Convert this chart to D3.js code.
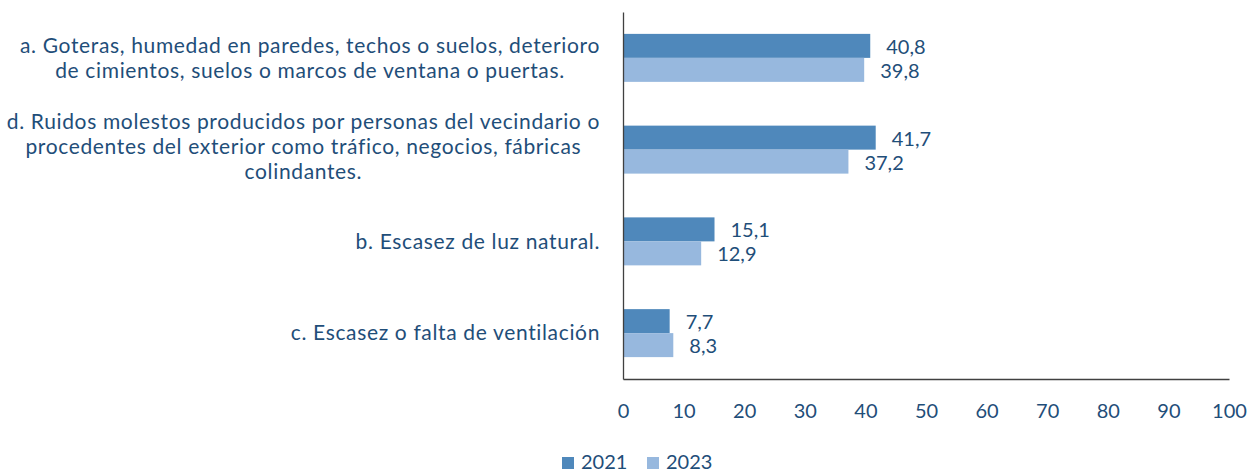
<!DOCTYPE html>
<html>
<head>
<meta charset="utf-8">
<script src="https://cdn.jsdelivr.net/npm/d3@7"></script>
<style>
  html, body { margin: 0; padding: 0; background: #ffffff; }
  svg { display: block; }
  text { font-family: Lato, "Open Sans", sans-serif; }
</style>
</head>
<body>
<svg id="chart" width="1255" height="471"></svg>
<script>
// ---- data ----
const categories = [
  ["a. Goteras, humedad en paredes, techos o suelos, deterioro", "de cimientos, suelos o marcos de ventana o puertas."],
  ["d. Ruidos molestos producidos por personas del vecindario o", "procedentes del exterior como tráfico, negocios, fábricas", "colindantes."],
  ["b. Escasez de luz natural."],
  ["c. Escasez o falta de ventilación"]
];
const seriesNames = ["2021", "2023"];
const values2021 = [40.8, 41.7, 15.1, 7.7];
const values2023 = [39.8, 37.2, 12.9, 8.3];
const xTicks = [0, 10, 20, 30, 40, 50, 60, 70, 80, 90, 100];

// ---- layout ----
const colors = ["#4f88bb", "#97b8de"];
const textColor = "#1f4e79";
const fontSize = 20;
const svg = d3.select("#chart");
const plot = { left: 623, right: 1229, top: 12, bottom: 379 };

const x = d3.scaleLinear().domain([0, 100]).range([plot.left, plot.right]);
const y = d3.scaleBand().domain(d3.range(categories.length))
  .range([plot.top, plot.bottom]).paddingInner(0.477).paddingOuter(0.2385);
const ySub = d3.scaleBand().domain(seriesNames).range([0, y.bandwidth()]);

const seriesData = [values2021, values2023];

// bars
seriesNames.forEach((name, si) => {
  const g = svg.append("g");
  g.selectAll("rect").data(seriesData[si]).enter().append("rect")
    .attr("x", x(0))
    .attr("y", (d, i) => y(i) + ySub(name))
    .attr("width", d => x(d) - x(0))
    .attr("height", ySub.bandwidth())
    .attr("fill", colors[si]);
  g.selectAll("text").data(seriesData[si]).enter().append("text")
    .attr("x", d => x(d) + 16)
    .attr("y", (d, i) => y(i) + ySub(name) + ySub.bandwidth() / 2)
    .attr("dy", "0.4em")
    .attr("font-size", fontSize)
    .attr("fill", textColor)
    .text(d => d3.format(".1f")(d).replace(".", ","));
});

// axes
const xAxis = d3.axisBottom(x).tickValues(xTicks).tickSize(0).tickPadding(0)
  .tickFormat(d => String(d));
const gx = svg.append("g").attr("transform", `translate(0,${plot.bottom})`).call(xAxis);
gx.select(".domain").attr("stroke", "#404040").attr("stroke-width", 1.3);
gx.selectAll(".tick text").attr("font-size", fontSize).attr("fill", textColor)
  .attr("font-family", "Lato, sans-serif").attr("dy", "1.95em");

const yAxisLine = d3.axisLeft(y).tickSize(0).tickFormat("");
const gy = svg.append("g").attr("transform", `translate(${plot.left},0)`).call(yAxisLine);
gy.select(".domain").attr("stroke", "#404040").attr("stroke-width", 1.3);

// category labels (centered multi-line blocks, right edge at 600)
const labelRight = 600;
const lineH = 25;
const catFont = 21;
categories.forEach((lines, i) => {
  const cy = y(i) + y.bandwidth() / 2 - (lines.length > 2 ? 3 : 0);
  const t = svg.append("text").attr("font-size", catFont).attr("fill", textColor)
    .attr("letter-spacing", "0.65px")
    .attr("text-anchor", "middle");
  const spans = lines.map((ln, k) => t.append("tspan")
    .attr("y", cy + (k - (lines.length - 1) / 2) * lineH)
    .attr("dy", "0.35em")
    .text(ln));
  let maxW = 0;
  spans.forEach(s => { maxW = Math.max(maxW, s.node().getComputedTextLength()); });
  spans.forEach(s => s.attr("x", labelRight - maxW / 2));
});

// legend
const legend = svg.append("g");
const legX = [562, 647];
seriesNames.forEach((name, si) => {
  legend.append("rect").attr("x", legX[si]).attr("y", 457).attr("width", 12).attr("height", 12)
    .attr("fill", colors[si]);
  legend.append("text").attr("x", legX[si] + 19).attr("y", 468.5)
    .attr("font-size", fontSize).attr("fill", textColor).text(name);
});
</script>
</body>
</html>
